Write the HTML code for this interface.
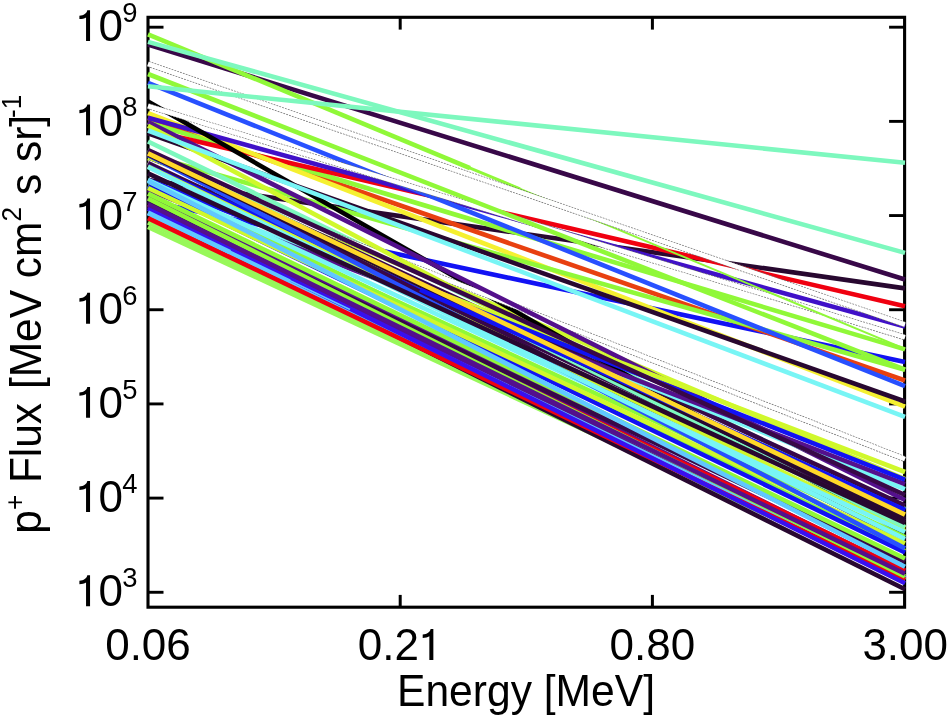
<!DOCTYPE html>
<html><head><meta charset="utf-8"><title>p+ Flux vs Energy</title>
<style>
html,body{margin:0;padding:0;background:#fff;}
svg{display:block;font-family:"Liberation Sans",sans-serif;}
text{fill:#000;}
</style></head><body>
<svg width="947" height="719" viewBox="0 0 947 719">
<rect width="947" height="719" fill="#fff"/>
<rect x="148.0" y="17.3" width="756.6" height="589.9000000000001" fill="none" stroke="#000" stroke-width="3.1"/>
<line x1="148.0" y1="27.20" x2="163.5" y2="27.20" stroke="#000" stroke-width="2.9"/>
<line x1="904.6" y1="27.20" x2="889.1" y2="27.20" stroke="#000" stroke-width="2.9"/>
<line x1="148.0" y1="121.38" x2="163.5" y2="121.38" stroke="#000" stroke-width="2.9"/>
<line x1="904.6" y1="121.38" x2="889.1" y2="121.38" stroke="#000" stroke-width="2.9"/>
<line x1="148.0" y1="215.56" x2="163.5" y2="215.56" stroke="#000" stroke-width="2.9"/>
<line x1="904.6" y1="215.56" x2="889.1" y2="215.56" stroke="#000" stroke-width="2.9"/>
<line x1="148.0" y1="309.74" x2="163.5" y2="309.74" stroke="#000" stroke-width="2.9"/>
<line x1="904.6" y1="309.74" x2="889.1" y2="309.74" stroke="#000" stroke-width="2.9"/>
<line x1="148.0" y1="403.92" x2="163.5" y2="403.92" stroke="#000" stroke-width="2.9"/>
<line x1="904.6" y1="403.92" x2="889.1" y2="403.92" stroke="#000" stroke-width="2.9"/>
<line x1="148.0" y1="498.10" x2="163.5" y2="498.10" stroke="#000" stroke-width="2.9"/>
<line x1="904.6" y1="498.10" x2="889.1" y2="498.10" stroke="#000" stroke-width="2.9"/>
<line x1="148.0" y1="592.28" x2="163.5" y2="592.28" stroke="#000" stroke-width="2.9"/>
<line x1="904.6" y1="592.28" x2="889.1" y2="592.28" stroke="#000" stroke-width="2.9"/>
<line x1="400.2" y1="17.3" x2="400.2" y2="29.6" stroke="#000" stroke-width="3"/>
<line x1="400.2" y1="607.2" x2="400.2" y2="594.9000000000001" stroke="#000" stroke-width="3"/>
<line x1="652.4" y1="17.3" x2="652.4" y2="29.6" stroke="#000" stroke-width="3"/>
<line x1="652.4" y1="607.2" x2="652.4" y2="594.9000000000001" stroke="#000" stroke-width="3"/>
<polyline points="148.0,180.0 905.0,288.4" fill="none" stroke="#280830" stroke-width="4.6" stroke-linejoin="round"/>
<polyline points="148.0,201.0 905.0,362.1" fill="none" stroke="#1212f4" stroke-width="4.6" stroke-linejoin="round"/>
<polyline points="148.0,118.0 905.0,380.5" fill="none" stroke="#e84010" stroke-width="4.6" stroke-linejoin="round"/>
<polyline points="148.0,122.5 905.0,349.4" fill="none" stroke="#90f838" stroke-width="4.6" stroke-linejoin="round"/>
<polyline points="148.0,130.0 905.0,306.3" fill="none" stroke="#f00010" stroke-width="4.6" stroke-linejoin="round"/>
<polyline points="148.0,113.2 905.0,406.6" fill="none" stroke="#f5f030" stroke-width="4.6" stroke-linejoin="round"/>
<polyline points="148.0,155.0 905.0,369.7" fill="none" stroke="#90f838" stroke-width="4.6" stroke-linejoin="round"/>
<polyline points="148.0,141.5 905.0,509.0" fill="none" stroke="#7df8be" stroke-width="4.6" stroke-linejoin="round"/>
<polyline points="148.0,117.8 905.0,326.6" fill="none" stroke="#4010c8" stroke-width="4.6" stroke-linejoin="round"/>
<polyline points="148.0,82.9 905.0,386.2" fill="none" stroke="#2850ff" stroke-width="4.6" stroke-linejoin="round"/>
<polyline points="148.0,158.1 905.0,479.0" fill="none" stroke="#d0f82c" stroke-width="4.6" stroke-linejoin="round"/>
<polyline points="148.0,101.5 905.0,534.0" fill="none" stroke="#000000" stroke-width="4.6" stroke-linejoin="round"/>
<polyline points="148.0,106.0 905.0,337.4" fill="none" stroke="#6a6a6a" stroke-width="5.8999999999999995" stroke-dasharray="1.9 1.1"/><polyline points="148.0,106.0 905.0,337.4" fill="none" stroke="#fff" stroke-width="4.6"/>
<polyline points="148.0,162.3 905.0,459.2" fill="none" stroke="#6a6a6a" stroke-width="5.8999999999999995" stroke-dasharray="1.9 1.1"/><polyline points="148.0,162.3 905.0,459.2" fill="none" stroke="#fff" stroke-width="4.6"/>
<polyline points="148.0,122.0 905.0,500.0" fill="none" stroke="#54108c" stroke-width="4.6" stroke-linejoin="round"/>
<polyline points="148.0,133.3 905.0,401.5" fill="none" stroke="#280830" stroke-width="4.6" stroke-linejoin="round"/>
<polyline points="148.0,125.8 905.0,528.0" fill="none" stroke="#d0f82c" stroke-width="4.6" stroke-linejoin="round"/>
<polyline points="148.0,130.5 905.0,416.8" fill="none" stroke="#78f5f5" stroke-width="4.6" stroke-linejoin="round"/>
<polyline points="148.0,155.0 905.0,505.7" fill="none" stroke="#380848" stroke-width="4.6" stroke-linejoin="round"/>
<polyline points="148.0,186.0 905.0,489.2" fill="none" stroke="#78f5f5" stroke-width="4.6" stroke-linejoin="round"/>
<polyline points="148.0,190.0 905.0,484.2" fill="none" stroke="#54108c" stroke-width="4.6" stroke-linejoin="round"/>
<polyline points="148.0,180.5 905.0,472.0" fill="none" stroke="#d0f82c" stroke-width="4.6" stroke-linejoin="round"/>
<polyline points="148.0,180.0 905.0,479.7" fill="none" stroke="#1212f4" stroke-width="4.6" stroke-linejoin="round"/>
<polyline points="148.0,227.0 905.0,579.0" fill="none" stroke="#98f85a" stroke-width="4.6" stroke-linejoin="round"/>
<polyline points="148.0,222.5 905.0,580.0" fill="none" stroke="#98f85a" stroke-width="4.6" stroke-linejoin="round"/>
<polyline points="148.0,186.0 905.0,537.0" fill="none" stroke="#90f838" stroke-width="4.6" stroke-linejoin="round"/>
<polyline points="148.0,163.0 905.0,521.0" fill="none" stroke="#380848" stroke-width="4.6" stroke-linejoin="round"/>
<polyline points="148.0,206.5 905.0,578.5" fill="none" stroke="#54108c" stroke-width="4.6" stroke-linejoin="round"/>
<polyline points="148.0,197.5 905.0,560.0" fill="none" stroke="#54108c" stroke-width="4.6" stroke-linejoin="round"/>
<polyline points="148.0,212.5 905.0,589.3" fill="none" stroke="#280830" stroke-width="4.6" stroke-linejoin="round"/>
<polyline points="148.0,213.2 905.0,578.0" fill="none" stroke="#60c8ff" stroke-width="4.6" stroke-linejoin="round"/>
<polyline points="148.0,218.2 905.0,579.5" fill="none" stroke="#f00010" stroke-width="4.6" stroke-linejoin="round"/>
<polyline points="148.0,197.9 905.0,571.5" fill="none" stroke="#54108c" stroke-width="4.6" stroke-linejoin="round"/>
<polyline points="148.0,204.2 905.0,570.6" fill="none" stroke="#f00010" stroke-width="4.6" stroke-linejoin="round"/>
<polyline points="148.0,201.8 905.0,561.8" fill="none" stroke="#380848" stroke-width="4.6" stroke-linejoin="round"/>
<polyline points="148.0,198.5 905.0,576.5" fill="none" stroke="#90f838" stroke-width="4.6" stroke-linejoin="round"/>
<polyline points="148.0,208.6 905.0,583.3" fill="none" stroke="#3810f0" stroke-width="4.6" stroke-linejoin="round"/>
<polyline points="148.0,212.6 230.0,252.1" fill="none" stroke="#60c8ff" stroke-width="4.6" stroke-linejoin="round"/>
<polyline points="225.0,249.5 290.0,280.8" fill="none" stroke="#60c8ff" stroke-width="3.0" stroke-linejoin="round"/>
<polyline points="285.0,278.2 350.0,309.5" fill="none" stroke="#60c8ff" stroke-width="1.5" stroke-linejoin="round"/>
<polyline points="148.0,204.3 905.0,573.8" fill="none" stroke="#54108c" stroke-width="4.6" stroke-linejoin="round"/>
<polyline points="148.0,166.0 905.0,510.0" fill="none" stroke="#1212f4" stroke-width="4.6" stroke-linejoin="round"/>
<polyline points="148.0,152.7 905.0,540.5" fill="none" stroke="#380848" stroke-width="4.6" stroke-linejoin="round"/>
<polyline points="148.0,180.2 905.0,551.0" fill="none" stroke="#90f838" stroke-width="4.6" stroke-linejoin="round"/>
<polyline points="148.0,186.4 905.0,552.5" fill="none" stroke="#1212f4" stroke-width="4.6" stroke-linejoin="round"/>
<polyline points="148.0,166.5 905.0,531.0" fill="none" stroke="#d0f82c" stroke-width="4.6" stroke-linejoin="round"/>
<polyline points="148.0,180.0 905.0,532.0" fill="none" stroke="#78f5f5" stroke-width="4.6" stroke-linejoin="round"/>
<polyline points="148.0,193.6 905.0,558.5" fill="none" stroke="#90f838" stroke-width="4.6" stroke-linejoin="round"/>
<polyline points="148.0,188.0 905.0,543.4" fill="none" stroke="#d0f82c" stroke-width="4.6" stroke-linejoin="round"/>
<polyline points="148.0,180.9 905.0,566.8" fill="none" stroke="#60c8ff" stroke-width="4.6" stroke-linejoin="round"/>
<polyline points="148.0,155.0 905.0,548.4" fill="none" stroke="#2850ff" stroke-width="4.6" stroke-linejoin="round"/>
<polyline points="148.0,167.0 905.0,539.0" fill="none" stroke="#78f5f5" stroke-width="4.6" stroke-linejoin="round"/>
<polyline points="148.0,150.0 905.0,527.0" fill="none" stroke="#7df8be" stroke-width="4.6" stroke-linejoin="round"/>
<polyline points="148.0,173.3 905.0,523.0" fill="none" stroke="#280830" stroke-width="4.6" stroke-linejoin="round"/>
<polyline points="148.0,154.4 905.0,519.0" fill="none" stroke="#280830" stroke-width="4.6" stroke-linejoin="round"/>
<polyline points="148.0,150.0 905.0,495.0" fill="none" stroke="#380848" stroke-width="4.6" stroke-linejoin="round"/>
<polyline points="420.0,289.6 905.0,510.0" fill="none" stroke="#1212f4" stroke-width="4.6" stroke-linejoin="round"/>
<polyline points="148.0,153.4 905.0,514.6" fill="none" stroke="#ffd828" stroke-width="4.6" stroke-linejoin="round"/>
<polyline points="148.0,44.5 905.0,279.5" fill="none" stroke="#380848" stroke-width="4.6" stroke-linejoin="round"/>
<polyline points="148.0,34.3 470.0,168.1" fill="none" stroke="#90f838" stroke-width="4.6" stroke-linejoin="round"/>
<polyline points="440.0,155.6 520.0,188.8" fill="none" stroke="#90f838" stroke-width="3.0" stroke-linejoin="round"/>
<polyline points="500.0,180.5 905.0,348.8" fill="none" stroke="#90f838" stroke-width="1.9" stroke-linejoin="round"/>
<polyline points="148.0,74.0 905.0,369.7" fill="none" stroke="#90f838" stroke-width="4.6" stroke-linejoin="round"/>
<polyline points="148.0,63.9 905.0,324.7" fill="none" stroke="#6a6a6a" stroke-width="5.8999999999999995" stroke-dasharray="1.9 1.1"/><polyline points="148.0,63.9 905.0,324.7" fill="none" stroke="#fff" stroke-width="4.6"/>
<polyline points="148.0,41.9 905.0,252.9" fill="none" stroke="#7df8be" stroke-width="4.6" stroke-linejoin="round"/>
<polyline points="148.0,86.3 905.0,162.8" fill="none" stroke="#7df8be" stroke-width="4.6" stroke-linejoin="round"/>

<g style="filter:grayscale(1)"><path d="M6.75,0 H10.75 V-30.9 H8.0 C7.3,-27.7 4.6,-25.7 0.1,-25.4 V-22.0 C2.7,-22.1 5.0,-22.7 6.75,-23.7 Z" transform="translate(79.3,41.10)"/>
<text x="98.5" y="41.40" font-size="44">0</text>
<text x="122.2" y="22.20" font-size="27.4">9</text>
<path d="M6.75,0 H10.75 V-30.9 H8.0 C7.3,-27.7 4.6,-25.7 0.1,-25.4 V-22.0 C2.7,-22.1 5.0,-22.7 6.75,-23.7 Z" transform="translate(79.3,135.28)"/>
<text x="98.5" y="135.58" font-size="44">0</text>
<text x="122.2" y="116.38" font-size="27.4">8</text>
<path d="M6.75,0 H10.75 V-30.9 H8.0 C7.3,-27.7 4.6,-25.7 0.1,-25.4 V-22.0 C2.7,-22.1 5.0,-22.7 6.75,-23.7 Z" transform="translate(79.3,229.46)"/>
<text x="98.5" y="229.76" font-size="44">0</text>
<text x="122.2" y="210.56" font-size="27.4">7</text>
<path d="M6.75,0 H10.75 V-30.9 H8.0 C7.3,-27.7 4.6,-25.7 0.1,-25.4 V-22.0 C2.7,-22.1 5.0,-22.7 6.75,-23.7 Z" transform="translate(79.3,323.64)"/>
<text x="98.5" y="323.94" font-size="44">0</text>
<text x="122.2" y="304.74" font-size="27.4">6</text>
<path d="M6.75,0 H10.75 V-30.9 H8.0 C7.3,-27.7 4.6,-25.7 0.1,-25.4 V-22.0 C2.7,-22.1 5.0,-22.7 6.75,-23.7 Z" transform="translate(79.3,417.82)"/>
<text x="98.5" y="418.12" font-size="44">0</text>
<text x="122.2" y="398.92" font-size="27.4">5</text>
<path d="M6.75,0 H10.75 V-30.9 H8.0 C7.3,-27.7 4.6,-25.7 0.1,-25.4 V-22.0 C2.7,-22.1 5.0,-22.7 6.75,-23.7 Z" transform="translate(79.3,512.00)"/>
<text x="98.5" y="512.30" font-size="44">0</text>
<text x="122.2" y="493.10" font-size="27.4">4</text>
<path d="M6.75,0 H10.75 V-30.9 H8.0 C7.3,-27.7 4.6,-25.7 0.1,-25.4 V-22.0 C2.7,-22.1 5.0,-22.7 6.75,-23.7 Z" transform="translate(79.3,606.18)"/>
<text x="98.5" y="606.48" font-size="44">0</text>
<text x="122.2" y="587.28" font-size="27.4">3</text>
<text x="148.0" y="660.2" font-size="44" text-anchor="middle">0.06</text>
<text x="357.70" y="660.2" font-size="44">0.2</text>
<path d="M6.75,0 H10.75 V-30.9 H8.0 C7.3,-27.7 4.6,-25.7 0.1,-25.4 V-22.0 C2.7,-22.1 5.0,-22.7 6.75,-23.7 Z" transform="translate(422.6,659.90)"/>
<text x="652.4" y="660.2" font-size="44" text-anchor="middle">0.80</text>
<text x="905.2" y="660.2" font-size="44" text-anchor="middle">3.00</text>
<text x="397" y="705.6" font-size="43.6" textLength="258" lengthAdjust="spacingAndGlyphs">Energy [MeV]</text>
<g transform="translate(41.4,533.67) rotate(-90) scale(0.9637,1)"><text x="0" y="0" font-size="44">p<tspan font-size="27" dy="-17.9">+</tspan><tspan dy="17.9"> Flux</tspan></text></g>
<g transform="translate(41.4,389.1) rotate(-90) scale(0.9652,1)"><text x="0" y="0" font-size="44">[MeV cm<tspan font-size="27" dy="-20.4">2</tspan></text></g>
<g transform="translate(41.4,195.0) rotate(-90) scale(0.9647,1)"><text x="0" y="0" font-size="44">s sr]<tspan font-size="27" dy="-20.4" dx="-3.2">-1</tspan></text></g></g>
</svg>
</body></html>
